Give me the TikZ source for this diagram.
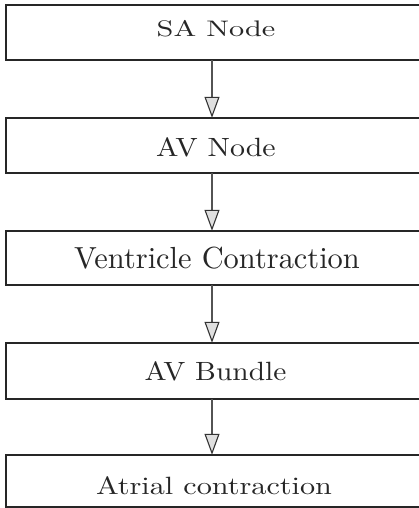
\documentclass[tikz,border=0pt]{standalone}
\usetikzlibrary{arrows.meta}
\begin{document}
\begin{tikzpicture}[x=1pt,y=-1pt,
  stepbox/.style={minimum width=440pt, inner sep=0pt},
  boxline/.style={draw=black!85, line width=1.6pt, line join=miter},
  steptext/.style={anchor=base, inner sep=0pt, text=black!85},
  flowarrow/.style={draw=gray!65!black, line width=2.4pt,
    -{Triangle[length=21pt,width=15pt,fill=gray!25,color=gray!40!black,line width=1.1pt]}}]
\useasboundingbox (0,0) rectangle (419,508);
\newcommand{\lbltext}[3]{\scalebox{#1}[#2]{\fontsize{10}{12}\selectfont #3}}
\node[stepbox, minimum height=55pt] (b1) at (226,32.5) {};
\node[stepbox, minimum height=55pt] (b2) at (226,145.5) {};
\node[stepbox, minimum height=54pt] (b3) at (226,258) {};
\node[stepbox, minimum height=56pt] (b4) at (226,371) {};
\node[stepbox, minimum height=52pt] (b5) at (226,481) {};
\foreach \b in {b1,b2,b3,b4,b5}
  \draw[boxline] (\b.north east) -- (\b.north west) -- (\b.south west) -- (\b.south east);
\node[steptext] (t1) at (216,37) {\lbltext{3.03}{2.25}{SA Node}};
\node[steptext] (t2) at (216,156) {\lbltext{2.99}{2.64}{AV Node}};
\node[steptext] (t3) at (217,268) {\lbltext{3.04}{3.05}{Ventricle Contraction}};
\node[steptext] (t4) at (215.5,380) {\lbltext{2.94}{2.64}{AV Bundle}};
\node[steptext] (t5) at (214,494) {\lbltext{3.02}{2.5}{Atrial contraction}};
\draw[flowarrow] ([xshift=-14pt]b1.south) -- ([xshift=-14pt]b2.north);
\draw[flowarrow] ([xshift=-14pt]b2.south) -- ([xshift=-14pt]b3.north);
\draw[flowarrow] ([xshift=-14pt]b3.south) -- ([xshift=-14pt]b4.north);
\draw[flowarrow] ([xshift=-14pt]b4.south) -- ([xshift=-14pt]b5.north);
\end{tikzpicture}
\end{document}
